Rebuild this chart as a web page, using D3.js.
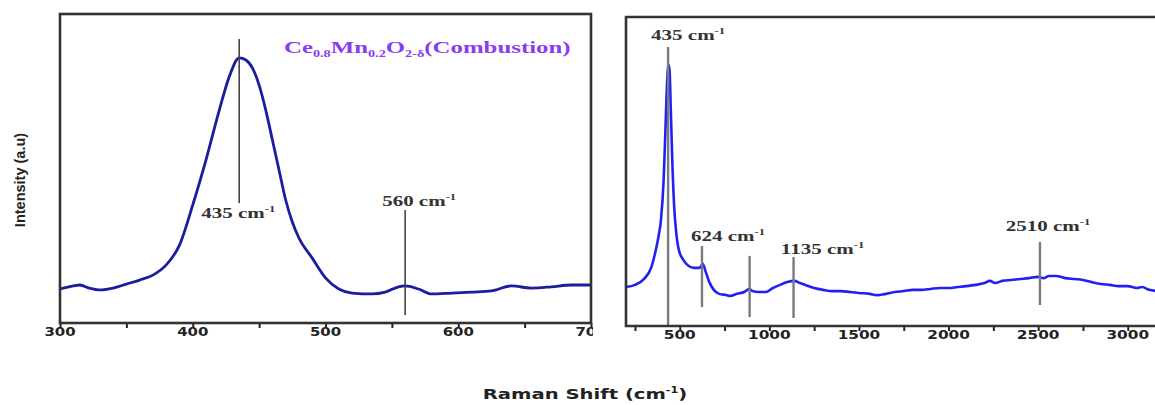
<!DOCTYPE html>
<html><head><meta charset="utf-8">
<script src="https://cdn.jsdelivr.net/npm/d3@7"></script>
<style>body{margin:0;background:#fff}svg{display:block}</style>
</head><body><svg id="chart" width="1155" height="405"></svg>
<script>
// Raman spectra of Ce0.8Mn0.2O2-δ (combustion): 300–700 cm⁻¹ window and full range

const leftShift = [300,310,315,322,330,340,350,360,370,380,390,400,410,420,428,435,440,445,450,455,460,465,470,475,480,490,500,510,520,535,545,555,560,570,580,595,610,625,640,655,670,685,700];
const leftIntensity = [11.0,12.0,12.3,11.3,10.7,11.3,12.6,13.9,15.5,18.8,25.2,38.2,52.8,68.9,80.3,85.8,85.1,82.5,77.0,68.9,59.2,49.5,39.8,32.7,27.5,21.0,14.6,11.0,9.7,9.4,10.0,11.7,12.0,11.0,9.4,9.7,10.0,10.4,12.0,11.3,11.7,12.3,12.3];

const rightShift = [200,250,300,340,360,380,395,410,420,430,437,443,450,460,470,480,495,520,550,580,610,628,645,665,690,720,760,780,820,860,890,905,940,980,1020,1060,1100,1140,1170,1200,1250,1300,1350,1400,1450,1500,1560,1600,1650,1700,1750,1800,1850,1900,1950,2000,2050,2100,2150,2200,2230,2260,2300,2350,2400,2450,2500,2530,2560,2600,2650,2700,2750,2800,2850,2900,2950,3000,3050,3080,3120,3160];
const rightIntensity = [12.6,13.3,15.2,18.8,23.0,28.5,34.3,47.2,63.4,79.6,84.5,82.8,69.9,50.5,37.5,30.4,24.6,21.4,19.4,18.8,18.8,20.1,17.5,14.2,11.7,10.4,10.0,9.7,10.4,11.0,12.0,11.3,11.0,11.0,12.3,13.3,14.2,14.6,13.9,13.3,12.3,11.7,11.3,11.3,11.0,10.7,10.4,10.0,10.4,11.0,11.3,11.7,11.7,12.0,12.3,12.3,12.6,12.9,13.3,13.9,14.6,13.9,14.6,14.9,15.2,15.5,15.9,15.5,16.2,16.2,15.5,15.2,14.9,14.2,13.6,13.3,12.9,12.9,12.3,12.6,11.7,11.3];

const leftTicks = [300,400,500,600,700];
const leftMinorTicks = [350,450,550,650];
const rightTicks = [500,1000,1500,2000,2500,3000];
const rightMinorTicks = [250,750,1250,1750,2250,2750,3250];

const leftPeakShifts = [435,560];
const leftPeakLabels = ["435","560"];
const rightPeakShifts = [435,624,890,1135,2510];
const rightPeakLabels = ["435","624","","1135","2510"];

const svg = d3.select("#chart");

// geometry for each panel
const L = {x0:60, x1:591, y0:14, y1:323};
const R = {x0:626, y0:17, y1:326};

const xL = d3.scaleLinear().domain([300,700]).range([L.x0, L.x1]);
const yL = d3.scaleLinear().domain([0,100]).range([L.y1, L.y1 - 309]);
const xR = d3.scaleLinear().domain([200,3500]).range([R.x0, R.x0 + 3300*0.1792]);
const yR = d3.scaleLinear().domain([0,100]).range([R.y1, R.y1 - 309]);

const defs = svg.append("defs");
defs.append("clipPath").attr("id","clipL").append("rect")
  .attr("x",L.x0).attr("y",L.y0).attr("width",L.x1-L.x0).attr("height",L.y1-L.y0);
defs.append("clipPath").attr("id","clipR").append("rect")
  .attr("x",R.x0).attr("y",R.y0).attr("width",1155-R.x0).attr("height",R.y1-R.y0);
// the left panel's tick labels stop where the right panel begins
defs.append("clipPath").attr("id","clipLabelsL").append("rect")
  .attr("x",0).attr("y",0).attr("width",593).attr("height",405);

const tickFont = "'DejaVu Sans', sans-serif";
const serif = "'Liberation Serif','Times New Roman',serif";

function drawAxis(x, yPos, majors, minors, stretch, clip) {
  const g = svg.append("g").attr("transform",`translate(0,${yPos})`);
  g.call(d3.axisBottom(x).tickValues(majors).tickSize(5).tickFormat(""));
  g.call(gg => gg.select(".domain").remove());
  g.selectAll(".tick line").attr("stroke","#222").attr("stroke-width",2);
  const mg = svg.append("g").attr("transform",`translate(0,${yPos})`);
  mg.call(d3.axisBottom(x).tickValues(minors).tickSize(5).tickFormat(""));
  mg.call(gg => gg.select(".domain").remove());
  mg.selectAll(".tick line").attr("stroke","#222").attr("stroke-width",2);
  const lg = svg.append("g");
  if (clip) lg.attr("clip-path",`url(#${clip})`);
  majors.forEach(v => {
    lg.append("text")
      .attr("transform",`translate(${x(v)},${yPos+13}) scale(${stretch},1)`)
      .attr("text-anchor","middle")
      .attr("font-family",tickFont).attr("font-weight","bold").attr("font-size",13)
      .attr("fill","#222").text(v);
  });
}

function peakLabel(x, y, num) {
  const t = svg.append("text")
    .attr("transform",`translate(${x},${y}) scale(1.4,1)`)
    .attr("text-anchor","middle")
    .attr("font-family",serif).attr("font-weight","bold").attr("font-size",15)
    .attr("fill","#333");
  t.append("tspan").text(num + " cm");
  t.append("tspan").attr("font-size",9).attr("dy",-6).text("-1");
}

// ---------- left panel ----------
drawAxis(xL, L.y1, leftTicks, leftMinorTicks, 1.15, "clipLabelsL");

svg.append("path")
  .datum(leftShift.map((s,i)=>[s,leftIntensity[i]]))
  .attr("clip-path","url(#clipL)")
  .attr("fill","none").attr("stroke","#1c1c9e").attr("stroke-width",2.8)
  .attr("stroke-linejoin","round")
  .attr("d", d3.line().x(d=>xL(d[0])).y(d=>yL(d[1])).curve(d3.curveMonotoneX));

// marker lines: [top, bottom] in intensity units, label offset and baseline
const leftMarks = [
  {top:91.9, bottom:38.8, dx:-1, ly:34.0},
  {top:36.6, bottom:2.6, dx:14, ly:37.8}
];
leftPeakShifts.forEach((p,i) => {
  const m = leftMarks[i];
  svg.append("line")
    .attr("x1",xL(p)).attr("x2",xL(p)).attr("y1",yL(m.top)).attr("y2",yL(m.bottom))
    .attr("stroke","#444").attr("stroke-width",1.6);
  peakLabel(xL(p)+m.dx, yL(m.ly), leftPeakLabels[i]);
});

svg.append("rect")
  .attr("x",L.x0).attr("y",L.y0).attr("width",L.x1-L.x0).attr("height",L.y1-L.y0)
  .attr("fill","none").attr("stroke","#333").attr("stroke-width",2.6);

// sample title
const title = svg.append("text")
  .attr("transform","translate(284,53) scale(1.42,1)")
  .attr("font-family",serif).attr("font-weight","bold").attr("font-size",17.5)
  .attr("fill","#8a3cf0");
title.append("tspan").text("Ce");
title.append("tspan").attr("font-size",10).attr("dy",4).text("0.8");
title.append("tspan").attr("dy",-4).text("Mn");
title.append("tspan").attr("font-size",10).attr("dy",4).text("0.2");
title.append("tspan").attr("dy",-4).text("O");
title.append("tspan").attr("font-size",10).attr("dy",4).text("2-δ");
title.append("tspan").attr("dy",-4).text("(Combustion)");

// ---------- right panel ----------
drawAxis(xR, R.y1, rightTicks, rightMinorTicks, 1.18, null);

svg.append("path")
  .datum(rightShift.map((s,i)=>[s,rightIntensity[i]]))
  .attr("clip-path","url(#clipR)")
  .attr("fill","none").attr("stroke","#2020f5").attr("stroke-width",2.6)
  .attr("stroke-linejoin","round")
  .attr("d", d3.line().x(d=>xR(d[0])).y(d=>yR(d[1])).curve(d3.curveMonotoneX));

const rightMarks = [
  {top:90.3, bottom:0, dx:20, ly:92.5},
  {top:25.9, bottom:6.1, dx:26, ly:27.5},
  {top:22.7, bottom:2.9, dx:0, ly:0},
  {top:22.3, bottom:2.6, dx:29, ly:23.3},
  {top:27.2, bottom:6.8, dx:8, ly:30.7}
];
rightPeakShifts.forEach((p,i) => {
  const m = rightMarks[i];
  svg.append("line")
    .attr("x1",xR(p)).attr("x2",xR(p)).attr("y1",yR(m.top)).attr("y2",yR(m.bottom))
    .attr("stroke","#7a7a7a").attr("stroke-width",2.4);
  if (rightPeakLabels[i]) peakLabel(xR(p)+m.dx, yR(m.ly), rightPeakLabels[i]);
});

svg.append("path")
  .attr("d",`M1160,${R.y0}H${R.x0}V${R.y1}H1160`)
  .attr("fill","none").attr("stroke","#333").attr("stroke-width",2.6);

// ---------- shared axis titles ----------
svg.append("text")
  .attr("transform","translate(25,180) rotate(-90)")
  .attr("text-anchor","middle")
  .attr("font-family","'Liberation Sans', Arial, sans-serif").attr("font-weight","bold")
  .attr("font-size",14.5).attr("fill","#222")
  .text("Intensity (a.u)");

const xt = svg.append("text")
  .attr("transform","translate(585,399) scale(1.4,1)")
  .attr("text-anchor","middle")
  .attr("font-family",tickFont).attr("font-weight","bold")
  .attr("font-size",14).attr("fill","#222");
xt.append("tspan").text("Raman Shift (cm");
xt.append("tspan").attr("font-size",8).attr("dy",-6).text("-1");
xt.append("tspan").attr("dy",6).text(")");
</script>
</body></html>
